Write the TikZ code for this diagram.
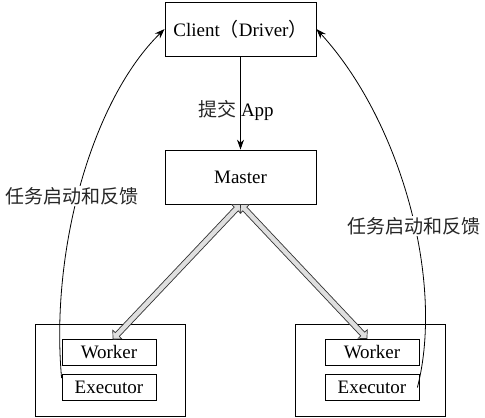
\documentclass[tikz,border=0pt]{standalone}
\usepackage{fontspec}
\setmainfont{Liberation Serif}
\newfontfamily\cjk{Noto Sans CJK SC}
\usetikzlibrary{arrows.meta,shapes.arrows,calc}
\begin{document}
\begin{tikzpicture}[x=1pt,y=-1pt,
  every node/.style={font=\fontsize{19}{22}\selectfont},
  grp/.style={draw, line width=0.8pt, inner sep=0pt, minimum width=150pt, minimum height=92pt},
  sub/.style={draw, line width=0.8pt, inner sep=0pt, minimum width=94pt, minimum height=26pt},
  big/.style={draw, line width=0.8pt, inner sep=0pt, minimum width=151pt, minimum height=54pt},
  arr/.style={line width=0.8pt, -{Stealth[length=10pt,width=7pt]}},
  lbl/.style={fill=white, inner sep=1pt, text=black!85},
  dblarrow/.style={draw=black!80, fill=gray!25, shape=double arrow, double arrow head extend=3.5pt,
     double arrow head indent=0pt, inner xsep=0pt, inner ysep=2.4pt, line width=0.7pt}]
\useasboundingbox (0,0) rectangle (485,418);
\node[big] (client) at (240.5,29) {Client{\cjk （}Driver{\cjk ）}};
\node[big] (master) at (240.5,177) {Master};
\node[grp] (lgrp) at (110,370) {};
\node[grp] (rgrp) at (370,370.5) {};
\node[sub] (lworker) at (109,352.5) {Worker};
\node[sub] (lexec) at (109,387.5) {Executor};
\node[sub] (rworker) at (372,352) {Worker};
\node[sub] (rexec) at (372,387.5) {Executor};
\draw[arr] (client.south) -- (master.north);
\node (app) at (236,110) {{\cjk\color{black!85}提交} App};
\coordinate (lwtop) at ($(lworker.north)+(4,0)$);
\coordinate (rwtop) at ($(rworker.north)+(-5,0)$);
\coordinate (lstart) at ($(lexec.north west)+(0,4)$);
\coordinate (rstart) at ($(rexec.east)+(-2,0)$);
\draw[arr] (lstart) .. controls (50,250) and (92,100) .. (client.west);
\draw[arr] (rstart) .. controls (445,280) and (400,120) .. (client.east);
\node[lbl] (ltxt) at (72,196) {\cjk 任务启动和反馈};
\node[lbl] (rtxt) at (414,226) {\cjk 任务启动和反馈};
\path let \p1=(master.south), \p2=(lwtop), \n1={veclen(\x2-\x1,\y2-\y1)} in
  (master.south) -- (lwtop) node[dblarrow, sloped, midway, minimum height=\n1] (la) {};
\path let \p1=(master.south), \p2=(rwtop), \n1={veclen(\x2-\x1,\y2-\y1)} in
  (master.south) -- (rwtop) node[dblarrow, sloped, midway, minimum height=\n1] (ra) {};
\end{tikzpicture}
\end{document}
